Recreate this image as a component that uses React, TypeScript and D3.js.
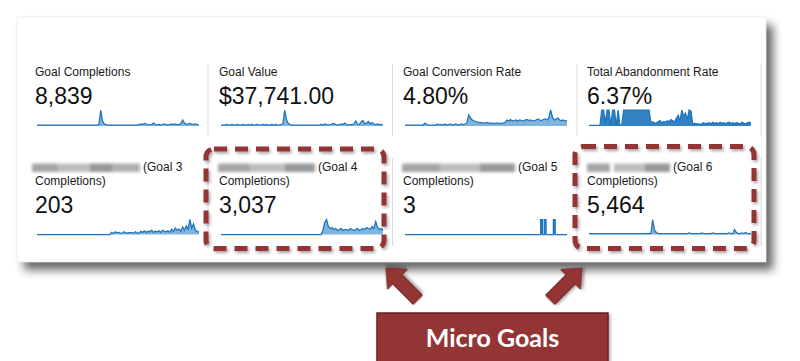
import React from "react";
import * as d3 from "d3";

// ---------- data ----------
const tileTitles = [
  "Goal Completions",
  "Goal Value",
  "Goal Conversion Rate",
  "Total Abandonment Rate",
  "(Goal 3",
  "(Goal 4",
  "(Goal 5",
  "(Goal 6",
];
const tileSecondLine = ["", "", "", "", "Completions)", "Completions)", "Completions)", "Completions)"];
const tileValues = ["8,839", "$37,741.00", "4.80%", "6.37%", "203", "3,037", "3", "5,464"];

const sGoalCompletions = [
  1,1,1,1,1,1,1,1,1,1, 1,1,1,1,1,1,1,1,1,1, 1,1,1,1,1,1,1,1,1,1, 1,1,1,1,1.5,
  16,5,2,1.5,
  1,1,1,1,1,1,1,1,1,1, 1,1,1,1,1,1,1,
  1.5,2,1.5,2.5,2,1.5,1,1.5,3,1.5, 1,1.5,1,1.5,2,1.5,1,1.5,2,1.5, 2,1.5,1.5,2.5,6,3,1.5,2,2.5,2, 1.5,2,1.5,1,
];
const sGoalValue = [
  1,1,1,1.5,1,1,1.5,1,1,1.5, 1,1,1.5,1,1,1.5,1,1.5,1,1, 1.5,1,1,1.5,1,1.5,1,1,1.5,1, 1.5,1,1,1.5,2,
  16,6,2.5,1.5,
  1,1,1,1,1,1,1,1,1,1, 1,1,1,1,1,1,
  1.5,1,2,1.5,1,1.5,2,2.5,1.5,1, 1.5,2,1.5,3,1.5,1,1.5,1.5,2,5, 2,1.5,4,5.5,2,3,4.5,2,3.5,2, 1.5,2,1.5,1.5,1,
];
const sConversionRate = [
  1,1,1,1,1,1,1,1,1,1, 1,3,1.5,1,1,1,1,1,2,1, 1.5,1,2,1,1.5,2,1,1.5,2,1, 1.5,2,1.5,2,3,
  11,8,6,5,4.5,
  4,3.5,3.5,3,3,3.5,3,3,3,2.5,3,3,2.5,3,3,3.5,
  6,5,6.5,5,5.5,6,5,6,5.5,5, 6,6.5,5.5,6,5,5.5,6,7,6,5.5, 6.5,7,6,8,16,9,6,7,8,6, 5.5,6,5,5.5,
];
const sAbandonmentRate = [
  0.5,0.5,0.5,0.5,0.5,0.5,0.5,
  15,15,3,15,15,
  0.5,
  15,15,
  0.5,
  15,
  0.5,0.5,
  15,15,15,15,15,15,15,15,15,15,15,15,15,15,15,
  3,4,2.5,3,4,5,3,4,3.5,5,4,6,5,4,7,10,5,15,9,12,6,15,14,
  2,2.5,2,2,1.5,2,3,2,2.5,3, 2,3.5,2.5,3,2,3.5,2.5,3,2,3, 3.5,2.5,3,2,3,2.5,2,3.5,2.5,2, 3,3.5,2.5,
];
const sGoal3 = [
  0,0,0,0,0,0,0,0,0,0, 0,0,0,0,0,0,0,0,0,0, 0,0,0,0,0,0,0,0,0,0, 0,0,0,0,0,0,0,0,0,0, 0,
  2,1,2.5,1.5,2,1,1.5,2.5,1,2, 1.5,2,1,2.5,1.5,1,3,2,3.5,2, 3,2.5,4,2,3,2.5,3.5,2,4,3, 2.5,3.5,2,5,3,6,4,5,3,7, 4,8,5,14,6,10,4,3,2,
];
const sGoal4 = [
  0,0,0,0,0,0,0,0,0,0, 0,0,0,0,0,0,0,0,0,0, 0,0,0,0,0,0,0,0,0,0, 0,0,0,0,0,0,0,0,0,0, 0,0,0,0,0,0,0,0,0,0, 0,0,0,0,0,0,
  4,12,15,8,6,7,5,6,4,5, 6,4,5,5,4,6,5,4,5,6, 4,5,6,5,7,6,5,8,6,13, 7,5,6,4,
];
const sGoal5 = [
  0,0,0,0,0,0,0,0,0,0, 0,0,0,0,0,0,0,0,0,0, 0,0,0,0,0,0,0,0,0,0, 0,0,0,0,0,0,0,0,0,0,
  0,0,0,0,0,0,0,0,0,0, 0,0,0,0,0,0,0,0,0,0, 0,0,0,0,0,0,0,0,0,0, 0,0,0,0,0,1,0,1,0,0,
  0,0,1,0,0,0,0,0,0,0,
];
const sGoal6 = [
  1,1,1,1,1,1,1,1,1,1, 1,1,1,1,1,1,1,1,1,1, 1,1,1,1,1,1,1,1,1,1, 1,1,1,1,1,
  15,4,2,
  1,1,1,1,1,1,1,1,1,1, 1,1,1,1,1,1,1,1.5,1,1, 1,1,1,1,1.5,1,1,1,1,1, 1.5,1,1,1,1,1,1,1,1,1.5, 1,1,5,2,1,1,1.5,1,2,1, 1,1,
];
const sparkSeries = [
  sGoalCompletions, sGoalValue, sConversionRate, sAbandonmentRate,
  sGoal3, sGoal4, sGoal5, sGoal6,
];
const calloutLabel = "Micro Goals";

// ---------- layout / style ----------
const W = 800;
const H = 361;
const colX = [35, 219, 403, 587];
const dividerX = [208, 392.5, 577, 761];
const blurRanges = [
  [], [], [], [],
  [[32, 58], [58, 90], [90, 112], [112, 140]],
  [[218, 250], [250, 285], [285, 315]],
  [[402, 440], [440, 480], [480, 515]],
  [[587, 610], [614, 645], [645, 670]],
];
const RED = "#943634";
const BLUE = "#1c74bd";
const FONT = "'Liberation Sans', Arial, Helvetica, sans-serif";

function Spark({ data, x0, base, h, solid, thin }: { data: number[]; x0: number; base: number; h: number; solid?: boolean; thin?: boolean }) {
  const x = d3.scaleLinear().domain([0, data.length - 1]).range([x0, x0 + 162]);
  const y = d3.scaleLinear().domain([0, d3.max(data) || 1]).range([base, base - h]);
  const curve = thin ? d3.curveStep : d3.curveLinear;
  const area = d3.area<number>().x((_, i) => x(i)).y0(base).y1((d) => y(d)).curve(curve);
  const line = d3.line<number>().x((_, i) => x(i)).y((d) => y(d)).curve(curve);
  return (
    <g>
      <path d={area(data) || ""} fill={BLUE} fillOpacity={solid ? 0.9 : 0.55} />
      <path d={line(data) || ""} fill="none" stroke={BLUE} strokeWidth={1.25} />
    </g>
  );
}

function Arrow({ tx, ty, angle }: { tx: number; ty: number; angle: number }) {
  const pts: [number, number][] = [
    [0, 0], [-16, -14], [-16, -6.5], [-45, -6.5], [-45, 6.5], [-16, 6.5], [-16, 14],
  ];
  const d = d3.line()(pts) + "Z";
  return (
    <path d={d} transform={`translate(${tx},${ty}) rotate(${angle})`} fill={RED} stroke="#6e2424" strokeWidth={1} filter="url(#ashadow)" />
  );
}

export default function App() {
  return (
    <svg width={W} height={H} style={{ position: "absolute", left: 0, top: 0, background: "#fff" }} fontFamily={FONT}>
      <defs>
        <filter id="cshadow" x="-5%" y="-10%" width="115%" height="130%">
          <feDropShadow dx="7" dy="8" stdDeviation="5" floodColor="#000" floodOpacity="0.6" />
        </filter>
        <filter id="ashadow" x="-30%" y="-30%" width="160%" height="160%">
          <feDropShadow dx="1.5" dy="2" stdDeviation="1.5" floodColor="#000" floodOpacity="0.35" />
        </filter>
        <filter id="blur" x="-10%" y="-50%" width="120%" height="200%">
          <feGaussianBlur stdDeviation="1.6" />
        </filter>
      </defs>
      <rect x={0} y={0} width={W} height={H} fill="#fff" />
      <rect x={17} y={17} width={749} height={245} fill="#fff" filter="url(#cshadow)" />
      <rect x={17} y={17} width={749} height={245} fill="#fff" stroke="#ececec" strokeWidth={0.8} />

      {/* dividers */}
      {dividerX.map((dx, i) => (
        <g key={"d" + i}>
          <line x1={dx} x2={dx} y1={64} y2={136} stroke="#dcdcdc" strokeWidth={1} />
          <line x1={dx} x2={dx} y1={158} y2={246} stroke="#dcdcdc" strokeWidth={1} />
        </g>
      ))}

      {tileTitles.map((t, i) => {
        const col = i % 4;
        const row = Math.floor(i / 4);
        const x = colX[col];
        if (row === 0) {
          return (
            <g key={"t" + i}>
              <text x={x} y={75.5} fontSize={12} fill="#1a1a1a">{t}</text>
              <text x={x} y={103.5} fontSize={23} fill="#111">{tileValues[i]}</text>
              <Spark data={sparkSeries[i]} x0={x + 2} base={126} h={16} solid={i === 3} />
            </g>
          );
        }
        const br = blurRanges[i];
        const lastX = br[br.length - 1][1];
        return (
          <g key={"t" + i}>
            <g filter="url(#blur)">
              {br.map((r, j) => (
                <rect key={j} x={r[0]} y={163.5} width={r[1] - r[0]} height={8.5} fill={["#a5a5a5", "#bdbdbd", "#979797", "#b0b0b0"][j % 4]} />
              ))}
            </g>
            <text x={lastX + 3} y={171} fontSize={12} fill="#1a1a1a">{t}</text>
            <text x={x} y={185} fontSize={12} fill="#1a1a1a">{tileSecondLine[i]}</text>
            <text x={x} y={212.5} fontSize={23} fill="#111">{tileValues[i]}</text>
            <Spark data={sparkSeries[i]} x0={x + 2} base={234.5} h={15} thin={i === 6} solid={i === 6} />
          </g>
        );
      })}

      {/* dashed highlight boxes */}
      <rect x={206} y={149} width={178} height={99.5} rx={8} fill="none" stroke={RED} strokeWidth={5} strokeDasharray="13 8" filter="url(#ashadow)" />
      <rect x={575} y={146.5} width={179} height={102} rx={8} fill="none" stroke={RED} strokeWidth={5} strokeDasharray="13 8" filter="url(#ashadow)" />

      {/* arrows */}
      <Arrow tx={386} ty={268} angle={-135} />
      <Arrow tx={582} ty={268} angle={-45} />

      {/* callout */}
      <rect x={377} y={313} width={231} height={52} fill={RED} stroke="#6b2222" strokeWidth={1.5} filter="url(#ashadow)" />
      <text x={492.5} y={347} textAnchor="middle" fontFamily="Lato, 'Open Sans', sans-serif" fontWeight={700} fontSize={25} fill="#fff">{calloutLabel}</text>
    </svg>
  );
}
